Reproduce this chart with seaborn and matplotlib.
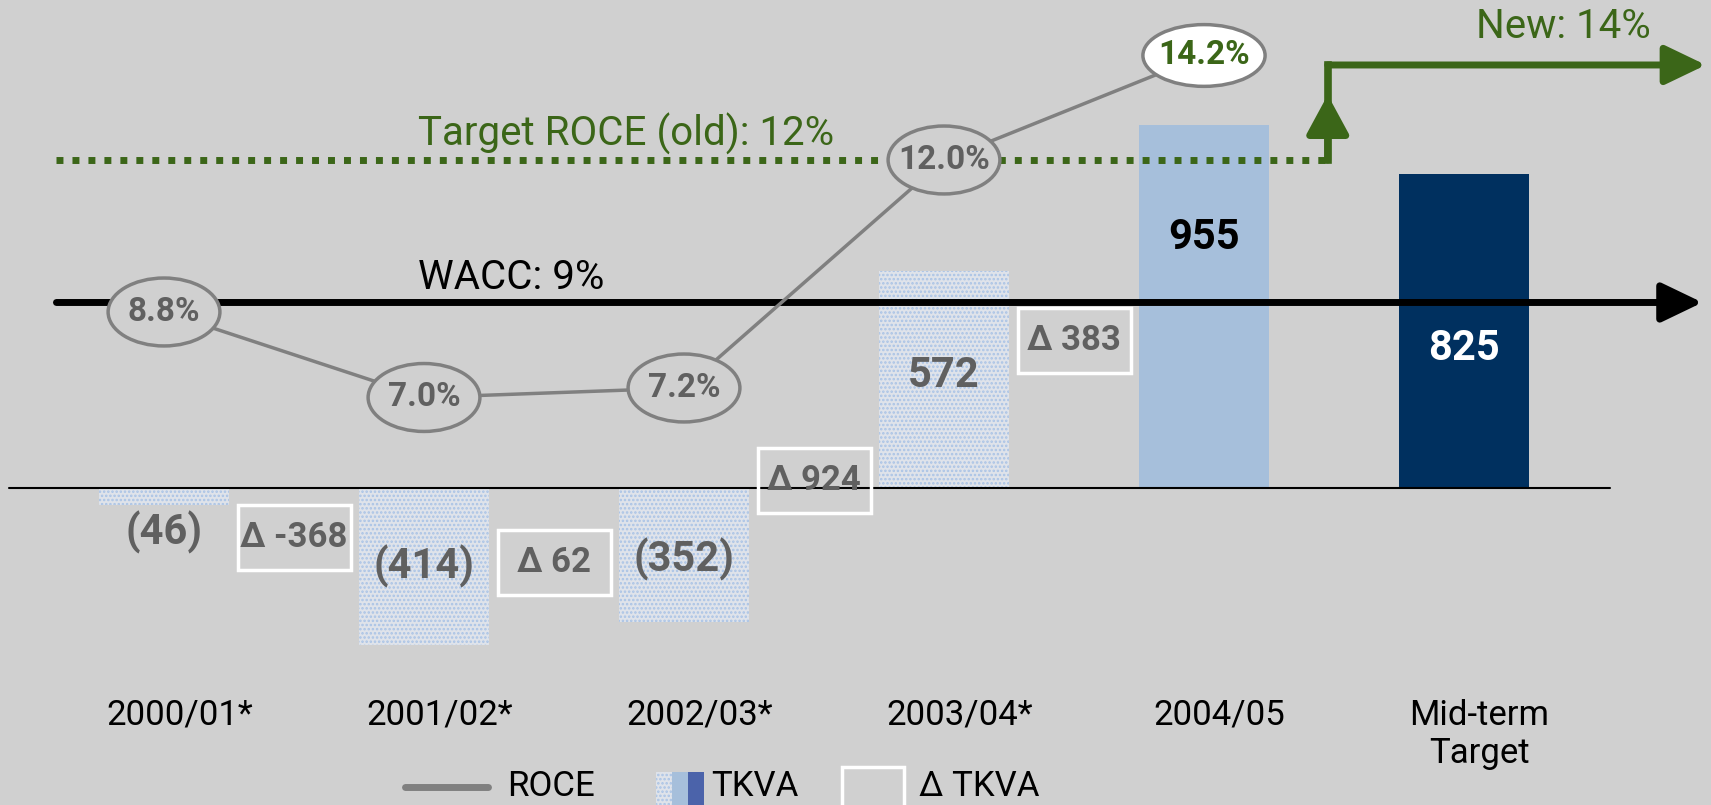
import seaborn as sns
import pandas as pd
import matplotlib.pyplot as plt
import numpy as np
from matplotlib.patches import Ellipse, Rectangle

# data
categories = ["2000/01*", "2001/02*", "2002/03*", "2003/04*", "2004/05", "Mid-term\nTarget"]
tkva = [-46, -414, -352, 572, 955, 825]
roce = [8.8, 7.0, 7.2, 12.0, 14.2]
delta_tkva = [-368, 62, 924, 383]
wacc = 9
target_old = 12
target_new = 14

# label placement (TKVA axis units)
bar_label_y = [-116, -207, -187, 295, 658, 366]
delta_label_y = [-129, -195, 21, 389]

bg = "#d0d0d0"
green = "#3b6618"
grey_txt = "#606060"
roce_grey = "#808080"
light_blue = "#a6bfdb"
navy = "#00305f"
dots_fc = "#dfe3ea"
dots_ec = "#a9c3e6"

sns.set_theme(style="white")
plt.rcParams['font.family'] = ['Roboto', 'DejaVu Sans']
plt.rcParams['hatch.linewidth'] = 1.2

fig = plt.figure(figsize=(17.11, 8.05), dpi=100, facecolor=bg)
ax = fig.add_axes([0, 0, 1, 1])
ax.set_facecolor('none')

df = pd.DataFrame({"period": categories, "tkva": tkva})
bar_colors = [dots_fc] * 4 + [light_blue, navy]
sns.barplot(data=df, x="period", y="tkva", hue="period", palette=bar_colors,
            width=0.5, saturation=1, legend=False, ax=ax)
for i, p in enumerate(ax.patches):
    p.set_linewidth(0)
    if i < 4:
        p.set_hatch('....')
        p.set_edgecolor(dots_ec)

ax.set_xlim(-0.6308, 5.95)
ax.set_ylim(-834.2, 1284.2)
ax.axis('off')

# zero line
ax.plot([0.005, 0.941], [0, 0], transform=ax.get_yaxis_transform(),
        color='black', lw=1.5, zorder=5)

# bar labels
for i, v in enumerate(tkva):
    txt = f"({-v})" if v < 0 else str(v)
    col = grey_txt if i < 4 else ('black' if i == 4 else 'white')
    ax.text(i, bar_label_y[i], txt, ha='center', va='center', fontsize=30,
            fontweight='bold', color=col, zorder=6)

# delta boxes
for j, d in enumerate(delta_tkva):
    x = j + 0.5
    y = delta_label_y[j]
    ax.add_patch(Rectangle((x - 0.217, y - 85.5), 0.435, 171, fill=False,
                           ec='white', lw=2.5, zorder=6))
    ax.text(x, y, f"Δ {d}", ha='center', va='center', fontsize=25,
            fontweight='bold', color=grey_txt, zorder=7)

# category labels
for i, c in enumerate(categories):
    ax.text(i + 0.06, -555, c, ha='center', va='top', fontsize=25, color='black')

# ROCE axis
ax2 = ax.twinx()
ax2.set_ylim(-1.579, 15.368)
ax2.set_xlim(-0.6308, 5.95)
ax2.axis('off')
tr = ax2.get_yaxis_transform()

# WACC arrow
ax2.annotate('', xy=(0.995, wacc), xytext=(0.033, wacc), xycoords=tr, textcoords=tr,
             arrowprops=dict(arrowstyle='-|>,head_length=1.25,head_width=0.6',
                             color='black', lw=5, mutation_scale=20,
                             shrinkA=0, shrinkB=0), zorder=2)
ax2.text(0.299, 9.52, "WACC: 9%", transform=tr, ha='center', va='center',
         fontsize=29, color='black')

# old target (dotted) and new target arrows
ax2.plot([0.033, 0.776], [target_old, target_old], transform=tr, color=green,
         lw=5, dashes=(1, 1.3), zorder=2)
ax2.plot([0.776, 0.776], [target_old, target_new], transform=tr, color=green,
         lw=5.5, solid_capstyle='projecting', zorder=2)
ax2.annotate('', xy=(0.776, 13.37), xytext=(0.776, target_old), xycoords=tr, textcoords=tr,
             arrowprops=dict(arrowstyle='-|>,head_length=1.2,head_width=0.65',
                             color=green, lw=5, mutation_scale=20,
                             shrinkA=0, shrinkB=0), zorder=2)
ax2.annotate('', xy=(0.997, target_new), xytext=(0.776, target_new), xycoords=tr, textcoords=tr,
             arrowprops=dict(arrowstyle='-|>,head_length=1.25,head_width=0.6',
                             color=green, lw=5, mutation_scale=20,
                             shrinkA=0, shrinkB=0), zorder=2)
ax2.text(0.366, 12.55, "Target ROCE (old): 12%", transform=tr, ha='center', va='center',
         fontsize=29, color=green)
ax2.text(0.965, 14.82, "New: 14%", transform=tr, ha='right', va='center',
         fontsize=29, color=green)

# ROCE line with ellipse labels
sns.lineplot(x=np.arange(len(roce)), y=roce, ax=ax2, color=roce_grey, lw=2.5, zorder=3)
for i, r in enumerate(roce):
    last = i == len(roce) - 1
    ax2.add_patch(Ellipse((i, r), width=0.47 if last else 0.43, height=1.3 if last else 1.43,
                          fc='white' if last else bg, ec=roce_grey, lw=2.5, zorder=4))
    ax2.text(i, r, f"{r:.1f}%", ha='center', va='center', fontsize=24,
             fontweight='bold', color=green if last else grey_txt, zorder=5)

# legend
ft = fig.transFigure
fig.add_artist(plt.Line2D([0.2367, 0.2852], [0.0224, 0.0224], transform=ft,
                          color=roce_grey, lw=5))
fig.text(0.2963, 0.0224, "ROCE", ha='left', va='center', fontsize=25, color='black')
fig.add_artist(Rectangle((0.3834, 0), 0.0093, 0.041, transform=ft, fc=dots_fc,
                         ec=dots_ec, lw=0, hatch='....'))
fig.add_artist(Rectangle((0.3927, 0), 0.0094, 0.041, transform=ft, fc=light_blue, lw=0))
fig.add_artist(Rectangle((0.4021, 0), 0.0093, 0.041, transform=ft, fc="#4b63aa", lw=0))
fig.text(0.4155, 0.0224, "TKVA", ha='left', va='center', fontsize=25, color='black')
fig.add_artist(Rectangle((0.4921, -0.01), 0.0362, 0.0572, transform=ft, fill=False,
                         ec='white', lw=2.5))
fig.text(0.5371, 0.0224, "Δ TKVA", ha='left', va='center', fontsize=25, color='black')

fig.savefig("out.png", dpi=100, facecolor=bg)
